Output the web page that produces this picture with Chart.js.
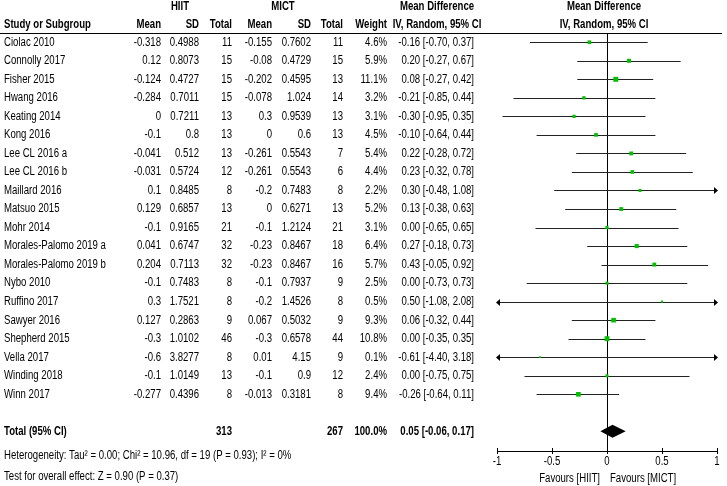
<!DOCTYPE html>
<html>
<head>
<meta charset="utf-8">
<script src="https://cdn.jsdelivr.net/npm/chart.js@4/dist/chart.umd.min.js"></script>
<style>
  body { margin: 0; background: #fff; }
  #wrap { width: 727px; height: 486px; position: relative; }
</style>
</head>
<body>
<div id="wrap"><canvas id="forest"></canvas></div>
<script>
const studies = ["Ciolac 2010", "Connolly 2017", "Fisher 2015", "Hwang 2016", "Keating 2014", "Kong 2016",
  "Lee CL 2016 a", "Lee CL 2016 b", "Maillard 2016", "Matsuo 2015", "Mohr 2014", "Morales-Palomo 2019 a",
  "Morales-Palomo 2019 b", "Nybo 2010", "Ruffino 2017", "Sawyer 2016", "Shepherd 2015", "Vella 2017",
  "Winding 2018", "Winn 2017"];
const hiitMean = [-0.318, 0.12, -0.124, -0.284, 0, -0.1, -0.041, -0.031, 0.1, 0.129, -0.1, 0.041, 0.204, -0.1, 0.3, 0.127, -0.3, -0.6, -0.1, -0.277];
const hiitSD = [0.4988, 0.8073, 0.4727, 0.7011, 0.7211, 0.8, 0.512, 0.5724, 0.8485, 0.6857, 0.9165, 0.6747, 0.7113, 0.7483, 1.7521, 0.2863, 1.0102, 3.8277, 1.0149, 0.4396];
const hiitN = [11, 15, 15, 15, 13, 13, 13, 12, 8, 13, 21, 32, 32, 8, 8, 9, 46, 8, 13, 8];
const mictMean = [-0.155, -0.08, -0.202, -0.078, 0.3, 0, -0.261, -0.261, -0.2, 0, -0.1, -0.23, -0.23, -0.1, -0.2, 0.067, -0.3, 0.01, -0.1, -0.013];
const mictSD = [0.7602, 0.4729, 0.4595, 1.024, 0.9539, 0.6, 0.5543, 0.5543, 0.7483, 0.6271, 1.2124, 0.8467, 0.8467, 0.7937, 1.4526, 0.5032, 0.6578, 4.15, 0.9, 0.3181];
const mictN = [11, 15, 13, 14, 13, 13, 7, 6, 8, 13, 21, 18, 16, 9, 8, 9, 44, 9, 12, 8];
const weights = [4.6, 5.9, 11.1, 3.2, 3.1, 4.5, 5.4, 4.4, 2.2, 5.2, 3.1, 6.4, 5.7, 2.5, 0.5, 9.3, 10.8, 0.1, 2.4, 9.4];
const md = [-0.16, 0.20, 0.08, -0.21, -0.30, -0.10, 0.22, 0.23, 0.30, 0.13, 0.00, 0.27, 0.43, 0.00, 0.50, 0.06, 0.00, -0.61, 0.00, -0.26];
const ciLow = [-0.70, -0.27, -0.27, -0.85, -0.95, -0.64, -0.28, -0.32, -0.48, -0.38, -0.65, -0.18, -0.05, -0.73, -1.08, -0.32, -0.35, -4.40, -0.75, -0.64];
const ciHigh = [0.37, 0.67, 0.42, 0.44, 0.35, 0.44, 0.72, 0.78, 1.08, 0.63, 0.65, 0.73, 0.92, 0.73, 2.08, 0.44, 0.35, 3.18, 0.75, 0.11];
const total = { hiitN: 313, mictN: 267, weight: 100.0, md: 0.05, low: -0.06, high: 0.17 };
const xTicks = [-1, -0.5, 0, 0.5, 1];
const footnotes = ["Heterogeneity: Tau\u00b2 = 0.00; Chi\u00b2 = 10.96, df = 19 (P = 0.93); I\u00b2 = 0%",
  "Test for overall effect: Z = 0.90 (P = 0.37)"];

// no narrow font installed, so squeeze Liberation Sans horizontally
const FONT = '"Liberation Sans", Arial, sans-serif';
const SQUEEZE = 0.8;
const totalRow = studies.length + 1;

// right edges of the text columns
const cols = { study: 4, hMean: 161, hSD: 199, hN: 232, mMean: 272, mSD: 311, mN: 343, weight: 387, ci: 474 };

function fmtCI(m, lo, hi) {
  return m.toFixed(2) + " [" + lo.toFixed(2) + ", " + hi.toFixed(2) + "]";
}

const tablePlugin = {
  id: 'forestTable',
  beforeDatasetsDraw(chart) {
    const ctx = chart.ctx;
    const xs = chart.scales.x, ys = chart.scales.y;
    const area = chart.chartArea;
    const px = v => xs.getPixelForValue(v);
    const py = v => ys.getPixelForValue(v);
    ctx.save();

    function txt(s, x, y, align, bold) {
      ctx.save();
      ctx.translate(x, y);
      ctx.scale(SQUEEZE, 1);
      ctx.fillStyle = '#000';
      ctx.textBaseline = 'middle';
      ctx.font = (bold ? 'bold ' : '') + '12px ' + FONT;
      ctx.textAlign = align;
      ctx.fillText(s, 0, 0);
      ctx.restore();
    }

    // headers
    const h1 = 7, h2 = 25;
    txt("HIIT", 180, h1, 'center', true);
    txt("MICT", 283, h1, 'center', true);
    txt("Mean Difference", 437, h1, 'center', true);
    txt("Mean Difference", px(0) - 3, h1, 'center', true);
    txt("Study or Subgroup", cols.study, h2, 'left', true);
    txt("Mean", cols.hMean, h2, 'right', true);
    txt("SD", cols.hSD, h2, 'right', true);
    txt("Total", cols.hN, h2, 'right', true);
    txt("Mean", cols.mMean, h2, 'right', true);
    txt("SD", cols.mSD, h2, 'right', true);
    txt("Total", cols.mN, h2, 'right', true);
    txt("Weight", cols.weight, h2, 'right', true);
    txt("IV, Random, 95% CI", 437, h2, 'center', true);
    txt("IV, Random, 95% CI", px(0) - 3, h2, 'center', true);

    ctx.strokeStyle = '#000';
    ctx.lineWidth = 1;
    ctx.beginPath();
    ctx.moveTo(0, Math.round(area.top) + 0.5);
    ctx.lineTo(722, Math.round(area.top) + 0.5);
    ctx.stroke();

    // study rows
    studies.forEach((name, i) => {
      const y = py(i);
      txt(name, cols.study, y, 'left');
      txt(String(hiitMean[i]), cols.hMean, y, 'right');
      txt(String(hiitSD[i]), cols.hSD, y, 'right');
      txt(String(hiitN[i]), cols.hN, y, 'right');
      txt(String(mictMean[i]), cols.mMean, y, 'right');
      txt(String(mictSD[i]), cols.mSD, y, 'right');
      txt(String(mictN[i]), cols.mN, y, 'right');
      txt(weights[i].toFixed(1) + "%", cols.weight, y, 'right');
      txt(fmtCI(md[i], ciLow[i], ciHigh[i]), cols.ci, y, 'right');
    });

    // total row
    const ty = py(totalRow);
    txt("Total (95% CI)", cols.study, ty, 'left', true);
    txt(String(total.hiitN), cols.hN, ty, 'right', true);
    txt(String(total.mictN), cols.mN, ty, 'right', true);
    txt(total.weight.toFixed(1) + "%", cols.weight, ty, 'right', true);
    txt(fmtCI(total.md, total.low, total.high), cols.ci, ty, 'right', true);

    // footnotes
    txt(footnotes[0], cols.study, py(totalRow + 1.33), 'left');
    txt(footnotes[1], cols.study, py(totalRow + 2.45), 'left');

    // zero line
    const x0 = Math.round(px(0)) + 0.5;
    ctx.beginPath();
    ctx.moveTo(x0, area.top);
    ctx.lineTo(x0, area.bottom);
    ctx.stroke();

    // whiskers, with arrows where the CI runs off the axis
    ctx.strokeStyle = '#222';
    ctx.fillStyle = '#000';
    studies.forEach((name, i) => {
      const y = Math.round(py(i)) + 0.5;
      const lo = Math.max(ciLow[i], xs.min), hi = Math.min(ciHigh[i], xs.max);
      ctx.beginPath();
      ctx.moveTo(px(lo), y);
      ctx.lineTo(px(hi), y);
      ctx.stroke();
      if (ciHigh[i] > xs.max) {
        const ax = px(xs.max);
        ctx.beginPath();
        ctx.moveTo(ax + 1, y);
        ctx.lineTo(ax - 3, y - 3.5);
        ctx.lineTo(ax - 3, y + 3.5);
        ctx.closePath();
        ctx.fill();
      }
      if (ciLow[i] < xs.min) {
        const ax = px(xs.min);
        ctx.beginPath();
        ctx.moveTo(ax - 1, y);
        ctx.lineTo(ax + 3, y - 3.5);
        ctx.lineTo(ax + 3, y + 3.5);
        ctx.closePath();
        ctx.fill();
      }
    });

    // pooled diamond
    ctx.beginPath();
    ctx.moveTo(px(total.low), ty);
    ctx.lineTo(px(total.md), ty - 6.5);
    ctx.lineTo(px(total.high), ty);
    ctx.lineTo(px(total.md), ty + 6.5);
    ctx.closePath();
    ctx.fill();

    // ticks cross the axis line, labels in the same narrow face
    ctx.strokeStyle = '#000';
    xTicks.forEach(t => {
      const x = Math.round(px(t)) + 0.5;
      ctx.beginPath();
      ctx.moveTo(x, area.bottom - 3);
      ctx.lineTo(x, area.bottom);
      ctx.stroke();
      txt(String(t), px(t), area.bottom + 11, 'center');
    });

    txt("Favours [HIIT]", px(0) - 7, 479, 'right');
    txt("Favours [MICT]", px(0) + 3, 479, 'left');
    ctx.restore();
  }
};

Chart.defaults.font.family = FONT;
Chart.defaults.font.size = 12;
Chart.defaults.color = '#000';

new Chart(document.getElementById('forest'), {
  type: 'scatter',
  data: {
    datasets: [{
      data: md.map((v, i) => ({ x: v, y: i })),
      pointStyle: 'rect',
      pointRadius: weights.map(w => 1 + 0.75 * Math.sqrt(w)),
      pointHoverRadius: weights.map(w => 1 + 0.75 * Math.sqrt(w)),
      backgroundColor: '#00c000',
      borderWidth: 0
    }]
  },
  options: {
    responsive: true,
    maintainAspectRatio: false,
    animation: false,
    events: [],
    layout: { padding: { left: 497, right: 10, top: 33, bottom: 0 } },
    plugins: { legend: { display: false }, tooltip: { enabled: false } },
    scales: {
      x: {
        type: 'linear',
        position: 'bottom',
        min: -1,
        max: 1,
        afterBuildTicks: s => { s.ticks = xTicks.map(v => ({ value: v })); },
        afterFit: s => { s.height = 35; },
        ticks: { display: false },
        grid: { drawOnChartArea: false, drawTicks: true, tickLength: 3, color: '#000' },
        border: { color: '#000', width: 1 }
      },
      y: {
        type: 'linear',
        display: false,
        reverse: true,
        min: -0.5,
        max: 22.06
      }
    }
  },
  plugins: [tablePlugin]
});
</script>
</body>
</html>
